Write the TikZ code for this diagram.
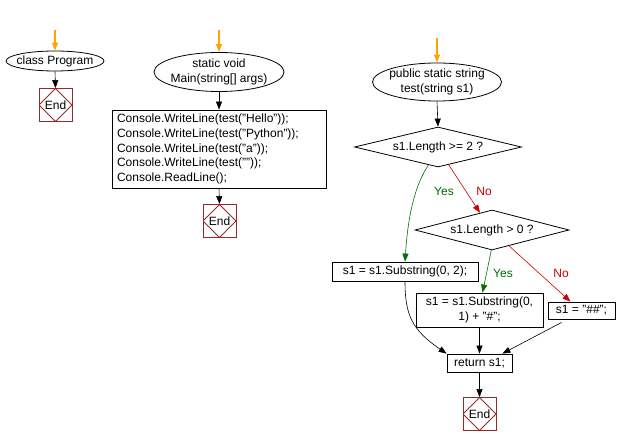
\documentclass[tikz,border=0pt]{standalone}
\usepackage{fontspec}
\setmainfont{Liberation Sans}
\usetikzlibrary{shapes.geometric,arrows.meta,calc}
\definecolor{endred}{RGB}{153,40,40}
\definecolor{yesgreen}{RGB}{0,110,0}
\definecolor{nored}{RGB}{204,0,0}
\definecolor{startorange}{RGB}{255,165,0}
\begin{document}
\begin{tikzpicture}[x=1pt,y=-1pt,
  font=\fontsize{12pt}{14.7pt}\selectfont,
  term/.style={ellipse, draw, line width=0.8pt, align=center, inner ysep=0pt, inner xsep=-4pt},
  proc/.style={rectangle, draw, line width=0.8pt, inner sep=0pt},
  decision/.style={diamond, draw, line width=0.8pt, aspect=4, inner sep=0pt},
  endbox/.style={draw=endred, line width=0.8pt, minimum size=33pt, inner sep=0pt,
    path picture={\draw[endred, line width=0.8pt] (path picture bounding box.north) -- (path picture bounding box.east) -- (path picture bounding box.south) -- (path picture bounding box.west) -- cycle;}},
  flow/.style={-{Triangle[length=8pt,width=6pt]}, line width=0.6pt},
  startarrow/.style={startorange, line width=1.4pt, -{Triangle[length=8pt,width=6pt]}},
  yeslabel/.style={text=yesgreen, inner sep=0pt},
  nolabel/.style={text=nored, inner sep=0pt}]
\useasboundingbox (0,0) rectangle (617,446);

% class Program
\coordinate (s1) at (55,30);
\node[term, minimum width=98pt, minimum height=20pt] (cp) at (55,61) {class Program};
\node[endbox] (e1) at (55.5,105) {End};
\draw[startarrow] (s1) -- (cp.north);
\draw[flow] (cp.south) -- (e1.north);

% Main
\coordinate (s2) at (219,30);
\node[term, minimum width=130pt, minimum height=39pt] (mn) at (219,72) {static void\\Main(string[] args)};
\node[proc, text width=204pt, align=left, inner xsep=5pt, minimum height=78pt] (body) at (219,149)
  {Console.WriteLine(test("Hello"));\\Console.WriteLine(test("Python"));\\Console.WriteLine(test("a"));\\Console.WriteLine(test(""));\\Console.ReadLine();};
\node[endbox] (e2) at (219.5,221) {End};
\draw[startarrow] (s2) -- (mn.north);
\draw[flow] (mn.south) -- (body.north);
\draw[flow] (body.south) -- (e2.north);

% test
\coordinate (s3) at (437,38);
\node[term, minimum width=129pt, minimum height=38pt] (ts) at (437,82) {public static string\\test(string s1)};
\node[decision, minimum width=167pt, minimum height=40pt] (d1) at (438,147) {s1.Length >= 2 ?};
\node[decision, minimum width=154pt, minimum height=40pt] (d2) at (492,230) {s1.Length > 0 ?};
\node[proc, minimum width=146pt, minimum height=19pt] (ra) at (405,271.5) {s1 = s1.Substring(0, 2);};
\node[proc, minimum width=127pt, minimum height=34pt, align=center] (rb) at (479.5,310) {s1 = s1.Substring(0,\\1) + "\#";};
\node[proc, minimum width=67pt, minimum height=17pt] (rc) at (581.5,310.5) {s1 = "\#\#";};
\node[proc, minimum width=65pt, minimum height=18pt] (rr) at (479.5,363) {return s1;};
\node[endbox] (e3) at (479.5,414) {End};

\node[yeslabel] (y1) at (444,191) {Yes};
\node[nolabel] (n1) at (484,191) {No};
\node[yeslabel] (y2) at (503,273) {Yes};
\node[nolabel] (n2) at (561,273) {No};

\draw[startarrow] (s3) -- (ts.north);
\draw[flow] (ts.south) -- (d1.north);
\draw[flow, yesgreen] (d1.242) .. controls (415,185) and (408,215) .. (ra.north);
\draw[flow, nored] (d1.301) -- (d2.125);
\draw[flow, yesgreen] (d2.268) -- ($(rb.north)+(3,0)$);
\draw[flow, nored] (d2.317) -- ($(rc.north)+(-11,0)$);
\draw[flow] (ra.south) .. controls (405,315) and (412,330) .. (rr.north west);
\draw[flow] (rb.south) -- (rr.north);
\draw[flow] ($(rc.south west)+(14,3)$) -- ($(rr.north east)+(-10,0)$);
\draw[flow] (rr.south) -- (e3.north);
\end{tikzpicture}
\end{document}
